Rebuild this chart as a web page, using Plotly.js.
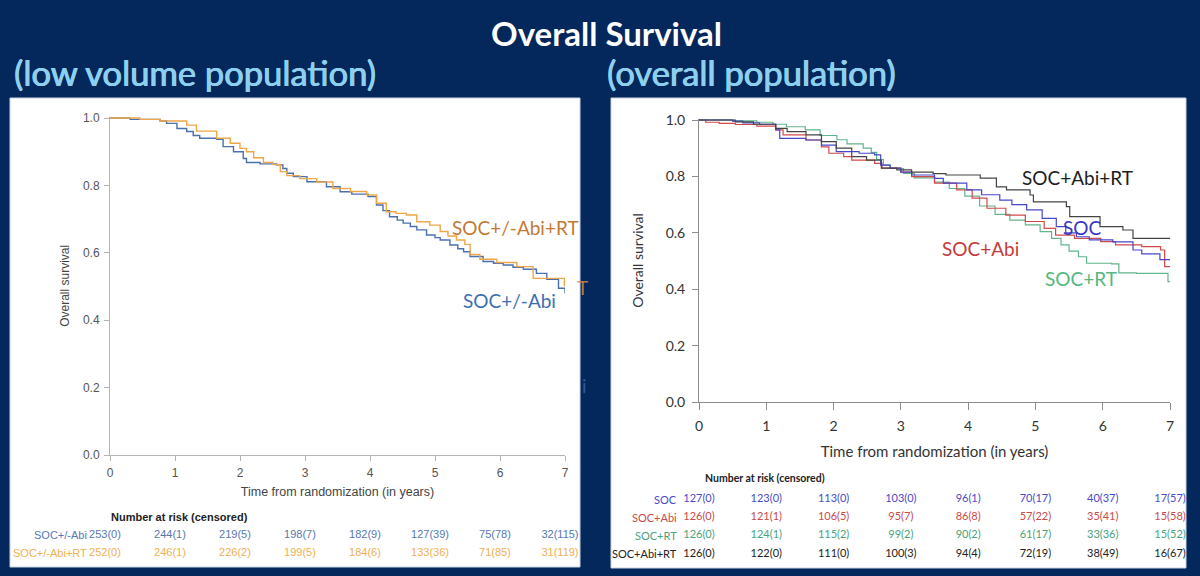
<!DOCTYPE html>
<html>
<head>
<meta charset="utf-8">
<script src="https://cdn.plot.ly/plotly-3.0.1.min.js"></script>
<style>
  html, body { margin: 0; padding: 0; background: #04285c; }
  #chart { width: 1200px; height: 576px; }
</style>
</head>
<body>
<div id="chart"></div>
<script>
// ---- Low volume population: Kaplan-Meier step points (years, survival) ----
const lowAbiTime = [0, 0.31, 0.77, 0.87, 1.03, 1.18, 1.28, 1.38, 1.64, 1.74, 1.9, 2.05, 2.1, 2.31, 2.56, 2.66, 2.72, 2.82, 3.03, 3.33, 3.54, 3.72, 3.97, 4.1, 4.2, 4.3, 4.42, 4.51, 4.62, 4.72, 4.87, 5.0, 5.08, 5.23, 5.35, 5.44, 5.54, 5.74, 5.9, 6.05, 6.2, 6.36, 6.56, 6.72, 6.9, 7.0];
const lowAbiSurv = [1.0, 0.996, 0.991, 0.984, 0.969, 0.960, 0.948, 0.940, 0.937, 0.915, 0.900, 0.880, 0.868, 0.864, 0.861, 0.850, 0.836, 0.826, 0.811, 0.796, 0.781, 0.774, 0.767, 0.742, 0.725, 0.707, 0.697, 0.688, 0.678, 0.668, 0.653, 0.645, 0.638, 0.623, 0.612, 0.603, 0.589, 0.574, 0.569, 0.564, 0.557, 0.551, 0.539, 0.521, 0.495, 0.480];

const lowAbiRtTime = [0, 0.46, 0.77, 1.18, 1.33, 1.64, 1.85, 2.0, 2.1, 2.21, 2.36, 2.51, 2.62, 2.72, 2.92, 3.18, 3.43, 3.7, 3.95, 4.1, 4.25, 4.4, 4.56, 4.72, 4.92, 5.08, 5.2, 5.33, 5.46, 5.54, 5.69, 5.95, 6.26, 6.51, 6.99, 7.0];
const lowAbiRtSurv = [1.0, 0.996, 0.991, 0.979, 0.961, 0.940, 0.925, 0.910, 0.900, 0.882, 0.868, 0.862, 0.841, 0.829, 0.820, 0.810, 0.791, 0.782, 0.772, 0.747, 0.722, 0.717, 0.712, 0.692, 0.682, 0.663, 0.650, 0.638, 0.625, 0.595, 0.581, 0.571, 0.559, 0.524, 0.503, 0.503];

// ---- Overall population: four arms ----
const socTime = [0, 0.5, 0.65, 0.9, 1.14, 1.2, 1.59, 1.82, 2.04, 2.38, 2.61, 2.7, 2.84, 3.0, 3.16, 3.5, 3.63, 3.98, 4.2, 4.47, 4.65, 4.87, 5.1, 5.31, 5.45, 5.61, 5.8, 6.15, 6.45, 6.58, 6.85, 7.0];
const socSurv = [1.0, 0.996, 0.990, 0.985, 0.965, 0.935, 0.929, 0.911, 0.888, 0.882, 0.876, 0.840, 0.829, 0.815, 0.805, 0.793, 0.776, 0.752, 0.735, 0.716, 0.700, 0.681, 0.651, 0.622, 0.600, 0.586, 0.575, 0.568, 0.539, 0.525, 0.505, 0.505];

const socAbiTime = [0, 0.1, 0.3, 0.54, 0.86, 1.14, 1.25, 1.59, 1.82, 1.93, 2.15, 2.27, 2.61, 2.72, 3.0, 3.16, 3.5, 3.83, 4.06, 4.28, 4.56, 4.85, 5.13, 5.3, 5.58, 5.97, 6.19, 6.58, 6.86, 6.92, 7.0];
const socAbiSurv = [1.0, 0.992, 0.988, 0.984, 0.978, 0.965, 0.947, 0.929, 0.905, 0.882, 0.870, 0.858, 0.846, 0.829, 0.815, 0.799, 0.776, 0.752, 0.723, 0.687, 0.663, 0.640, 0.616, 0.592, 0.580, 0.569, 0.557, 0.551, 0.539, 0.480, 0.480];

const socRtTime = [0, 0.5, 0.86, 1.1, 1.3, 1.58, 1.8, 2.05, 2.2, 2.44, 2.56, 2.64, 2.74, 2.84, 3.04, 3.2, 3.5, 3.72, 3.95, 4.17, 4.4, 4.62, 4.85, 5.07, 5.24, 5.38, 5.5, 5.64, 5.76, 6.13, 6.24, 6.5, 6.97, 7.0];
const socRtSurv = [1.0, 0.997, 0.992, 0.985, 0.976, 0.965, 0.945, 0.930, 0.915, 0.900, 0.885, 0.860, 0.840, 0.828, 0.811, 0.795, 0.780, 0.757, 0.730, 0.695, 0.665, 0.645, 0.628, 0.604, 0.580, 0.557, 0.535, 0.515, 0.492, 0.490, 0.458, 0.456, 0.427, 0.427];

const socAbiRtTime = [0, 0.54, 0.81, 1.14, 1.31, 1.59, 1.82, 2.04, 2.27, 2.49, 2.71, 2.94, 3.16, 3.48, 3.67, 4.18, 4.42, 4.57, 4.92, 4.97, 5.46, 5.51, 5.96, 6.3, 6.45, 7.0];
const socAbiRtSurv = [1.0, 0.993, 0.985, 0.970, 0.959, 0.947, 0.923, 0.900, 0.870, 0.858, 0.829, 0.823, 0.815, 0.810, 0.805, 0.794, 0.763, 0.752, 0.734, 0.710, 0.693, 0.657, 0.622, 0.610, 0.580, 0.580];

// ---- Number at risk (censored) ----
const riskYears = [0, 1, 2, 3, 4, 5, 6, 7];
const lowAbiAtRisk = [253, 244, 219, 198, 182, 127, 75, 32];
const lowAbiCens = [0, 1, 5, 7, 9, 39, 78, 115];
const lowAbiRtAtRisk = [252, 246, 226, 199, 184, 133, 71, 31];
const lowAbiRtCens = [0, 1, 2, 5, 6, 36, 85, 119];

const socAtRisk = [127, 123, 113, 103, 96, 70, 40, 17];
const socCens = [0, 0, 0, 0, 1, 17, 37, 57];
const socAbiAtRisk = [126, 121, 106, 95, 86, 57, 35, 15];
const socAbiCens = [0, 1, 5, 7, 8, 22, 41, 58];
const socRtAtRisk = [126, 124, 115, 99, 90, 61, 33, 15];
const socRtCens = [0, 1, 2, 2, 2, 17, 36, 52];
const socAbiRtAtRisk = [126, 122, 111, 100, 94, 72, 38, 16];
const socAbiRtCens = [0, 0, 0, 3, 4, 19, 49, 67];

const lowArmNames = ["SOC+/-Abi", "SOC+/-Abi+RT"];
const allArmNames = ["SOC", "SOC+Abi", "SOC+RT", "SOC+Abi+RT"];

// ---- styling ----
const W = 1200, H = 576;
const px = v => v / W;
const py = v => 1 - v / H;
const NAVY = "#04285c";
const ARIAL = "Liberation Sans, Arial, sans-serif";
const CAL = "Lato, Open Sans, sans-serif";
const SUB = "#8dd0ee";

const lowColors = { abi: "#4a70ad", abiRt: "#eea648" };
const lowRowColors = ["#5877b2", "#efb050"];
const allColors = { soc: "#4646cc", abi: "#d24a4a", rt: "#62b48c", abiRt: "#444444" };
const allRowColors = ["#4a4acb", "#c94a4a", "#4aa27e", "#222222"];

const fmtRisk = (n, c) => n.map((v, i) => v + "(" + c[i] + ")");

function km(t, s, color, width, xa, ya, name) {
  return { x: t, y: s, type: "scatter", mode: "lines", name: name,
           line: { shape: "hv", color: color, width: width },
           xaxis: xa, yaxis: ya, hoverinfo: "skip", showlegend: false };
}

function riskRow(counts, cens, row, color, size, family, xa, ya) {
  return { x: riskYears, y: riskYears.map(() => row), type: "scatter", mode: "text",
           text: fmtRisk(counts, cens), textposition: "middle center",
           textfont: { color: color, size: size, family: family },
           cliponaxis: true, xaxis: xa, yaxis: ya, hoverinfo: "skip", showlegend: false };
}

// free text placed in paper space, centred on the given pixel position
function label(text, x, y, font, xanchor) {
  return { text: text, xref: "paper", yref: "paper", x: px(x), y: py(y),
           xanchor: xanchor || "center", yanchor: "middle", showarrow: false, font: font };
}

const traces = [
  km(lowAbiTime, lowAbiSurv, lowColors.abi, 1.4, "x", "y", lowArmNames[0]),
  km(lowAbiRtTime, lowAbiRtSurv, lowColors.abiRt, 1.4, "x", "y", lowArmNames[1]),

  km(socRtTime, socRtSurv, allColors.rt, 1.2, "x2", "y2", allArmNames[2]),
  km(socAbiTime, socAbiSurv, allColors.abi, 1.2, "x2", "y2", allArmNames[1]),
  km(socTime, socSurv, allColors.soc, 1.2, "x2", "y2", allArmNames[0]),
  km(socAbiRtTime, socAbiRtSurv, allColors.abiRt, 1.2, "x2", "y2", allArmNames[3]),

  riskRow(lowAbiAtRisk, lowAbiCens, 0, lowRowColors[0], 11, ARIAL, "x3", "y3"),
  riskRow(lowAbiRtAtRisk, lowAbiRtCens, 1, lowRowColors[1], 11, ARIAL, "x3", "y3"),

  riskRow(socAtRisk, socCens, 0, allRowColors[0], 11, CAL, "x4", "y4"),
  riskRow(socAbiAtRisk, socAbiCens, 1, allRowColors[1], 11, CAL, "x4", "y4"),
  riskRow(socRtAtRisk, socRtCens, 2, allRowColors[2], 11, CAL, "x4", "y4"),
  riskRow(socAbiRtAtRisk, socAbiRtCens, 3, allRowColors[3], 11, CAL, "x4", "y4")
];

const leftAxisStyle = {
  showline: true, linecolor: "#b4b4b4", linewidth: 1, showgrid: false, zeroline: false,
  ticks: "outside", ticklen: 5, tickcolor: "#b4b4b4", tickwidth: 1,
  tickfont: { family: ARIAL, size: 12, color: "#555555" }, fixedrange: true
};
const rightAxisStyle = {
  showline: true, linecolor: "#8c8c8c", linewidth: 1, showgrid: false, zeroline: false,
  ticks: "outside", ticklen: 6, tickcolor: "#8c8c8c", tickwidth: 1,
  tickfont: { family: CAL, size: 14, color: "#333333" }, fixedrange: true
};

const curveFont = c => ({ family: CAL, size: 19, color: c });
const subFont = { family: CAL, size: 34.5, color: SUB, shadow: "0.6px 0 0 " + SUB + ", -0.3px 0 0 " + SUB };

const layout = {
  width: W, height: H,
  margin: { l: 0, r: 0, t: 0, b: 0 },
  paper_bgcolor: NAVY,
  plot_bgcolor: "rgba(0,0,0,0)",
  showlegend: false,
  xaxis: Object.assign({}, leftAxisStyle, {
    domain: [px(110), px(565)], range: [0, 7], tickvals: riskYears,
    ticklabelstandoff: 2,
    title: { text: "Time from randomization (in years)", standoff: 7,
             font: { family: ARIAL, size: 12.5, color: "#444444" } },
    anchor: "y"
  }),
  yaxis: Object.assign({}, leftAxisStyle, {
    domain: [py(455), py(455 - 337 * 1.004)], range: [0, 1.004],
    tickvals: [0, 0.2, 0.4, 0.6, 0.8, 1.0], tickformat: ".1f",
    ticklabelstandoff: 2,
    title: { text: "Overall survival", standoff: 10,
             font: { family: ARIAL, size: 12, color: "#444444" } },
    anchor: "x"
  }),
  xaxis2: Object.assign({}, rightAxisStyle, {
    domain: [px(699), px(1170)], range: [0, 7], tickvals: riskYears,
    ticklen: 7, ticklabelstandoff: 4,
    title: { text: "Time from randomization (in years)", standoff: 13,
             font: { family: CAL, size: 15, color: "#333333" } },
    anchor: "y2"
  }),
  yaxis2: Object.assign({}, rightAxisStyle, {
    domain: [py(402), py(402 - 282 * 1.004)], range: [0, 1.004],
    tickvals: [0, 0.2, 0.4, 0.6, 0.8, 1.0], tickformat: ".1f",
    ticklabelstandoff: 4,
    title: { text: "Overall survival", standoff: 18,
             font: { family: CAL, size: 14, color: "#333333" } },
    anchor: "x2"
  }),
  // at-risk tables: hidden axes aligned with the year ticks, clipped to each panel
  xaxis3: { domain: [px(10), px(580)], range: [(10 - 105) / 65, (580 - 105) / 65], visible: false, fixedrange: true, anchor: "y3" },
  yaxis3: { domain: [py(566), py(526)], range: [(566 - 535) / 18, (526 - 535) / 18], visible: false, fixedrange: true, anchor: "x3" },
  xaxis4: { domain: [px(611), px(1186)], range: [(611 - 699) / 67.29, (1186 - 699) / 67.29], visible: false, fixedrange: true, anchor: "y4" },
  yaxis4: { domain: [py(566), py(490)], range: [(566 - 499) / 18.33, (490 - 499) / 18.33], visible: false, fixedrange: true, anchor: "x4" },

  shapes: [
    { type: "rect", xref: "paper", yref: "paper", layer: "below",
      x0: px(10), x1: px(580), y0: py(567), y1: py(98),
      fillcolor: "#ffffff", line: { color: "#c9d2de", width: 1 } },
    { type: "rect", xref: "paper", yref: "paper", layer: "below",
      x0: px(611), x1: px(1186), y0: py(568), y1: py(98),
      fillcolor: "#ffffff", line: { color: "#c9d2de", width: 1 } }
  ],

  annotations: [
    label("<b>Overall Survival</b>", 606, 33, { family: CAL, size: 33, color: "#ffffff" }),
    label("(low volume population)", 12, 72, subFont, "left"),
    label("(overall population)", 605, 72, subFont, "left"),

    // curve labels, low volume
    label(lowArmNames[1], 515, 228, curveFont("#c47a34")),
    label(lowArmNames[0], 509, 300, curveFont("#3e6fb2")),
    label("T", 582, 287, curveFont("rgba(214,140,70,0.85)")),
    label("i", 584, 385, curveFont("rgba(70,110,190,0.7)")),

    // curve labels, overall
    label(allArmNames[3], 1077, 177, curveFont("#1e1e1e")),
    label(allArmNames[0], 1082, 228, curveFont("#3636c2")),
    label(allArmNames[1], 980, 248, curveFont("#c83a3a")),
    label(allArmNames[2], 1081, 278, curveFont("#55b87e")),

    // at-risk headers and row labels
    label("<b>Number at risk (censored)</b>", 179, 517, { family: ARIAL, size: 11, color: "#222222" }),
    label(lowArmNames[0], 89, 535, { family: ARIAL, size: 11, color: lowRowColors[0] }, "right"),
    label(lowArmNames[1], 89, 553, { family: ARIAL, size: 11, color: lowRowColors[1] }, "right"),

    label("<b>Number at risk (censored)</b>", 765, 478, { family: CAL, size: 10.5, color: "#222222" })
  ].concat(allArmNames.map((n, i) =>
    label(n, 679, 499 + 18.33 * i, { family: CAL, size: 11, color: allRowColors[i] }, "right")))
};

Plotly.newPlot("chart", traces, layout, { staticPlot: true, displayModeBar: false });
</script>
</body>
</html>
